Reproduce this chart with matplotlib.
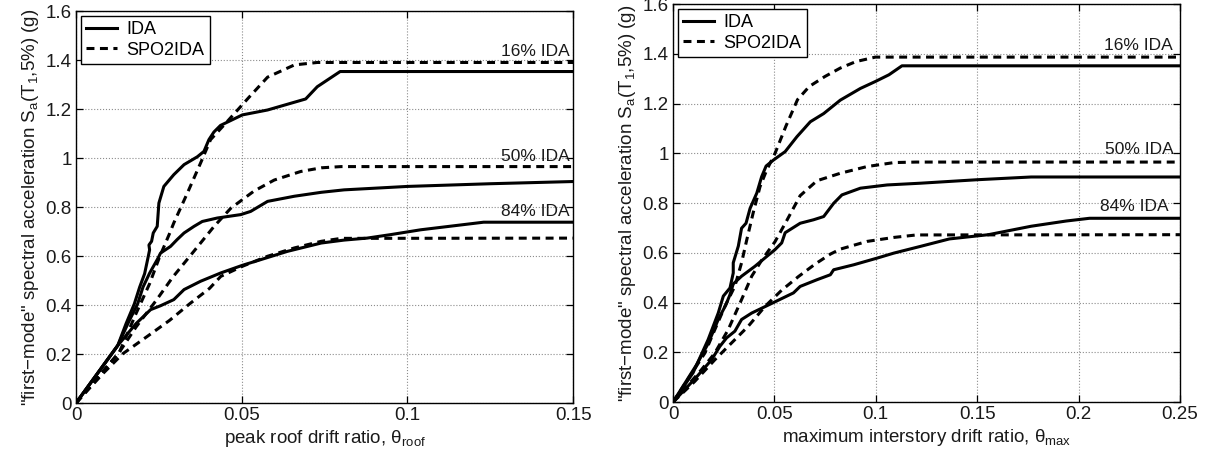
#!/usr/bin/env python
# -*- coding: utf-8 -*-

# ida_vs_spo2ida.py - IDA fractiles against SPO2IDA estimates
import matplotlib
matplotlib.use("Agg")
import matplotlib.pyplot as plt
from matplotlib.ticker import FuncFormatter

plt.rcParams['font.family'] = ['Liberation Sans', 'DejaVu Sans']
plt.rcParams['mathtext.default'] = 'regular'
plt.rcParams['font.size'] = 13.5

# --- left panel: peak roof drift ratio ---
roof_ida16_x = [0, 0.0126, 0.0151, 0.0176, 0.0192, 0.0207, 0.0219, 0.0222, 0.0220, 0.0228,
                0.0233, 0.0245, 0.0250, 0.0265, 0.0295, 0.0326, 0.0366, 0.0386, 0.0401,
                0.0416, 0.0436, 0.0502, 0.0578, 0.0693, 0.0728, 0.0797, 0.15]
roof_ida16_y = [0, 0.235, 0.324, 0.405, 0.473, 0.528, 0.605, 0.625, 0.645, 0.660,
                0.694, 0.721, 0.816, 0.884, 0.932, 0.973, 1.005, 1.027, 1.075,
                1.106, 1.133, 1.176, 1.196, 1.241, 1.291, 1.353, 1.353]
roof_spo16_x = [0, 0.0131, 0.0181, 0.0222, 0.0252, 0.0282, 0.0295, 0.0336, 0.0376, 0.0406,
                0.0457, 0.0520, 0.0578, 0.0659, 0.0728, 0.15]
roof_spo16_y = [0, 0.208, 0.365, 0.487, 0.596, 0.691, 0.735, 0.857, 0.980, 1.075,
                1.150, 1.245, 1.330, 1.380, 1.390, 1.390]

roof_ida50_x = [0, 0.0126, 0.0161, 0.0186, 0.0202, 0.0222, 0.0247, 0.0255, 0.0285, 0.0305,
                0.0326, 0.0356, 0.0381, 0.0426, 0.0497, 0.0527, 0.0578, 0.0659, 0.0740,
                0.0809, 0.10, 0.125, 0.15]
roof_ida50_y = [0, 0.235, 0.337, 0.405, 0.473, 0.530, 0.590, 0.612, 0.639, 0.667,
                0.694, 0.721, 0.741, 0.755, 0.769, 0.782, 0.823, 0.844, 0.860,
                0.870, 0.884, 0.895, 0.904]
roof_spo50_x = [0, 0.0131, 0.0181, 0.0242, 0.0292, 0.0356, 0.0416, 0.0467, 0.0537, 0.0598,
                0.0678, 0.0740, 0.080, 0.15]
roof_spo50_y = [0, 0.208, 0.310, 0.419, 0.514, 0.620, 0.720, 0.795, 0.865, 0.910,
                0.945, 0.960, 0.965, 0.965]

roof_ida84_x = [0, 0.0126, 0.0181, 0.0225, 0.0255, 0.0295, 0.0326, 0.0376, 0.0437, 0.0502,
                0.0557, 0.0638, 0.0740, 0.0809, 0.0878, 0.0948, 0.104, 0.123, 0.15]
roof_ida84_y = [0, 0.235, 0.324, 0.381, 0.397, 0.422, 0.463, 0.497, 0.531, 0.562,
                0.585, 0.619, 0.653, 0.665, 0.673, 0.687, 0.707, 0.738, 0.738]
roof_spo84_x = [0, 0.0081, 0.0141, 0.0212, 0.0282, 0.0343, 0.0403, 0.0437, 0.0502, 0.0578,
                0.0659, 0.0740, 0.080, 0.15]
roof_spo84_y = [0, 0.120, 0.201, 0.269, 0.337, 0.405, 0.468, 0.517, 0.558, 0.599,
                0.633, 0.660, 0.672, 0.673]

# --- right panel: maximum interstory drift ratio ---
max_ida16_x = [0, 0.0099, 0.0173, 0.0223, 0.0248, 0.0281, 0.0297, 0.0297, 0.0322, 0.0338,
               0.0360, 0.0380, 0.0413, 0.0437, 0.0459, 0.0495, 0.0553, 0.0611, 0.0677,
               0.0743, 0.0825, 0.0924, 0.0998, 0.1065, 0.1129, 0.25]
max_ida16_y = [0, 0.118, 0.251, 0.358, 0.426, 0.459, 0.519, 0.560, 0.627, 0.699,
               0.719, 0.779, 0.840, 0.906, 0.949, 0.973, 1.007, 1.067, 1.127,
               1.160, 1.214, 1.261, 1.289, 1.316, 1.352, 1.352]
max_spo16_x = [0, 0.0157, 0.0206, 0.0256, 0.0305, 0.0338, 0.0363, 0.0395, 0.0429, 0.0462,
               0.0503, 0.0557, 0.0614, 0.0672, 0.0749, 0.0825, 0.0902, 0.0998, 0.25]
max_spo16_y = [0, 0.197, 0.291, 0.385, 0.466, 0.560, 0.650, 0.760, 0.866, 0.933,
               1.000, 1.110, 1.216, 1.269, 1.309, 1.343, 1.369, 1.387, 1.387]

max_ida50_x = [0, 0.0116, 0.0173, 0.0223, 0.0260, 0.0280, 0.0297, 0.0338, 0.0404, 0.0454,
               0.0503, 0.0536, 0.0553, 0.0627, 0.0693, 0.0743, 0.0792, 0.0833, 0.0924,
               0.1056, 0.122, 0.15, 0.1766, 0.25]
max_ida50_y = [0, 0.150, 0.235, 0.332, 0.390, 0.430, 0.475, 0.506, 0.546, 0.580,
               0.613, 0.640, 0.681, 0.719, 0.733, 0.746, 0.799, 0.833, 0.860,
               0.873, 0.880, 0.894, 0.905, 0.905]
max_spo50_x = [0, 0.0140, 0.0206, 0.0272, 0.0338, 0.0388, 0.0437, 0.0503, 0.0561, 0.0627,
               0.0710, 0.0825, 0.0957, 0.109, 0.120, 0.25]
max_spo50_y = [0, 0.130, 0.197, 0.291, 0.412, 0.506, 0.570, 0.645, 0.730, 0.830,
               0.890, 0.920, 0.947, 0.963, 0.965, 0.965]

max_ida84_x = [0, 0.0115, 0.0190, 0.0231, 0.0264, 0.0305, 0.0338, 0.0388, 0.0495, 0.0594,
               0.0627, 0.0710, 0.0776, 0.0792, 0.0891, 0.1007, 0.1089, 0.122, 0.1363,
               0.1555, 0.1766, 0.1939, 0.2054, 0.25]
max_ida84_y = [0, 0.100, 0.170, 0.224, 0.258, 0.285, 0.332, 0.358, 0.400, 0.439,
               0.465, 0.492, 0.512, 0.532, 0.552, 0.579, 0.599, 0.626, 0.656,
               0.673, 0.707, 0.728, 0.739, 0.739]
max_spo84_x = [0, 0.0107, 0.0206, 0.0289, 0.0371, 0.0454, 0.0536, 0.0619, 0.0701, 0.0776,
               0.0825, 0.0957, 0.1089, 0.120, 0.25]
max_spo84_y = [0, 0.083, 0.170, 0.238, 0.305, 0.385, 0.450, 0.505, 0.555, 0.595,
               0.615, 0.646, 0.662, 0.672, 0.673]

fractile_labels = ['16% IDA', '50% IDA', '84% IDA']
roof_label_y = [1.405, 0.975, 0.752]
max_label_y = [1.405, 0.985, 0.757]

ylabel = '"first\u2212mode" spectral acceleration S$_{a}$(T$_{1}$,5%) (g)'

LW = 2.2
DASH = (0, (2.6, 1.8))
FS = 13.5


def fmt(v, pos):
    return '%g' % round(v, 4)


def style_axes(ax, xmax, xstep):
    ax.set_xlim(0, xmax)
    ax.set_ylim(0, 1.6)
    n = int(round(xmax / xstep))
    ax.set_xticks([i * xstep for i in range(n + 1)])
    ax.set_yticks([i * 0.2 for i in range(9)])
    ax.xaxis.set_major_formatter(FuncFormatter(fmt))
    ax.yaxis.set_major_formatter(FuncFormatter(fmt))
    ax.tick_params(direction='in', top=True, right=True, length=5, width=0.9,
                   labelsize=FS, pad=3, labelcolor='0.1')
    ax.grid(True, linestyle=':', color='0.55', linewidth=0.8)
    for s in ax.spines.values():
        s.set_linewidth(1.0)


def draw_panel(ax, curves, xmax, xstep, label_x, label_y, xlabel):
    for i, (ix, iy, sx, sy) in enumerate(curves):
        ax.plot(ix, iy, color='k', lw=LW, solid_joinstyle='round',
                label='IDA' if i == 0 else None)
        ax.plot(sx, sy, color='k', lw=LW, linestyle=DASH,
                label='SPO2IDA' if i == 0 else None)
    for txt, lx, ly in zip(fractile_labels, label_x, label_y):
        ax.text(lx, ly, txt, ha='right', va='bottom', fontsize=12.5, color='0.1')
    style_axes(ax, xmax, xstep)
    ax.set_xlabel(xlabel, fontsize=FS, color='0.1', labelpad=3)
    ax.set_ylabel(ylabel, fontsize=FS, color='0.1', labelpad=3)
    leg = ax.legend(loc='upper left', fontsize=13, handlelength=1.7,
                    handletextpad=0.55, borderaxespad=0.25, labelspacing=0.2,
                    fancybox=False, framealpha=1, borderpad=0.3)
    leg.get_frame().set_edgecolor('k')
    leg.get_frame().set_linewidth(1.0)


def main():
    fig = plt.figure(figsize=(12.07, 4.59), dpi=100)
    ax1 = fig.add_axes([0.063, 0.122, 0.4118, 0.854])
    ax2 = fig.add_axes([0.5576, 0.124, 0.420, 0.867])

    roof_curves = [(roof_ida16_x, roof_ida16_y, roof_spo16_x, roof_spo16_y),
                   (roof_ida50_x, roof_ida50_y, roof_spo50_x, roof_spo50_y),
                   (roof_ida84_x, roof_ida84_y, roof_spo84_x, roof_spo84_y)]
    max_curves = [(max_ida16_x, max_ida16_y, max_spo16_x, max_spo16_y),
                  (max_ida50_x, max_ida50_y, max_spo50_x, max_spo50_y),
                  (max_ida84_x, max_ida84_y, max_spo84_x, max_spo84_y)]

    draw_panel(ax1, roof_curves, 0.15, 0.05, [0.149, 0.149, 0.149], roof_label_y,
               r'peak roof drift ratio, $\theta_{roof}$')
    draw_panel(ax2, max_curves, 0.25, 0.05, [0.2466, 0.247, 0.2445], max_label_y,
               r'maximum interstory drift ratio, $\theta_{max}$')

    fig.savefig('out.png', dpi=100)


if __name__ == "__main__":
    main()
